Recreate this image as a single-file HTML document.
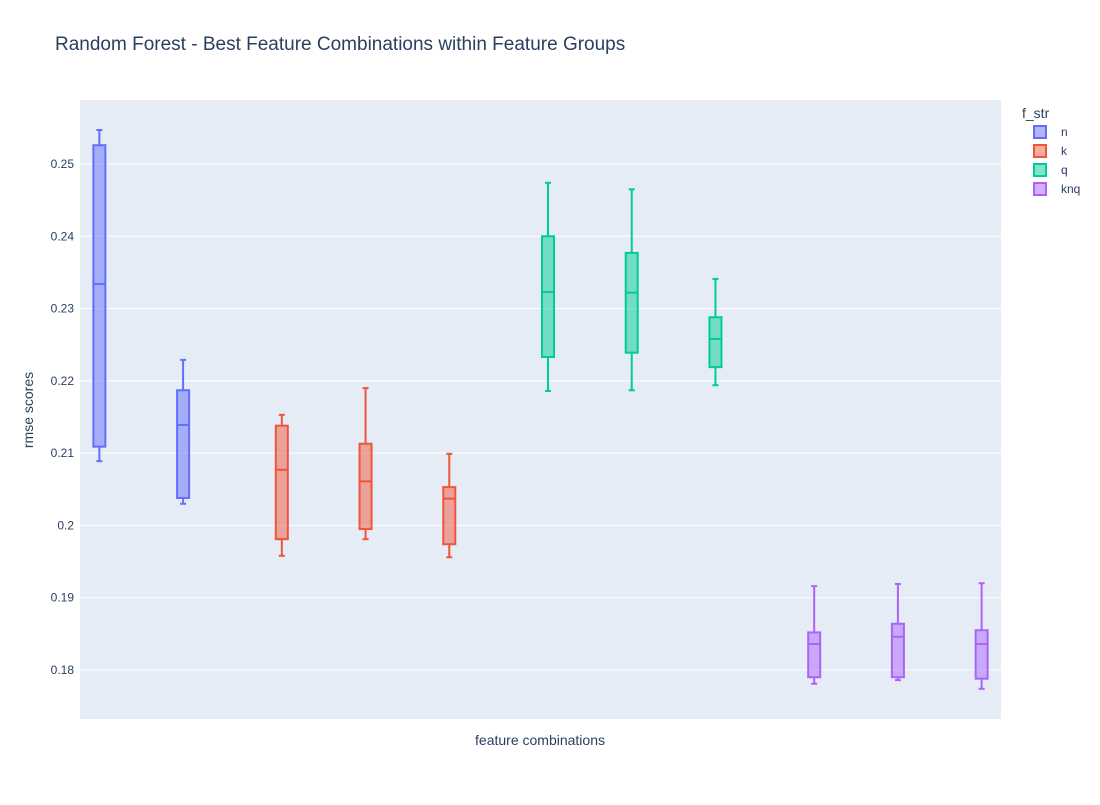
<!DOCTYPE html>
<html><head><meta charset="utf-8"><style>
body{margin:0;background:#fff;font-family:"Liberation Sans",Arial,sans-serif;}
svg text{font-family:"Liberation Sans",Arial,sans-serif;}
</style></head><body>
<svg id="chart" width="1100" height="800" xmlns="http://www.w3.org/2000/svg">
<rect x="0" y="0" width="1100" height="800" fill="#fff"/>
<text x="55" y="50" font-size="19" fill="#2a3f5f">Random Forest - Best Feature Combinations within Feature Groups</text>
<rect x="80" y="100" width="921" height="619" fill="#e5ecf6"/>
<g id="grid"></g>
<g id="boxes"></g>
<text x="540" y="745" font-size="14" fill="#2a3f5f" text-anchor="middle">feature combinations</text>
<text x="33" y="410" font-size="14" fill="#2a3f5f" text-anchor="middle" transform="rotate(-90 33 410)">rmse scores</text>
<g id="legend"></g>
</svg>
<script>
const groups=["n","k","q","knq"];
const colors=["#636efa","#EF553B","#00cc96","#ab63fa"];
const boxGroup=[0,0,1,1,1,2,2,2,3,3,3];
const lowers=[0.2089,0.2030,0.1958,0.1981,0.1956,0.2186,0.2187,0.2194,0.1781,0.1786,0.1774];
const q1s=[0.2109,0.2038,0.1981,0.1995,0.1974,0.2233,0.2239,0.2219,0.1790,0.1790,0.1788];
const medians=[0.2334,0.2139,0.2077,0.2061,0.2037,0.2323,0.2322,0.2258,0.1836,0.1846,0.1836];
const q3s=[0.2526,0.2187,0.2138,0.2113,0.2053,0.2400,0.2377,0.2288,0.1852,0.1864,0.1855];
const uppers=[0.2547,0.2229,0.2153,0.2190,0.2099,0.2474,0.2465,0.2341,0.1916,0.1919,0.1920];
const yTicks=[0.18,0.19,0.2,0.21,0.22,0.23,0.24,0.25];
const yTickLabels=["0.18","0.19","0.2","0.21","0.22","0.23","0.24","0.25"];
const NS="http://www.w3.org/2000/svg";
const X0=80,X1=1001,Y0=100,Y1=719;
function y(v){return 164+(0.25-v)*(670-164)/0.07;}
function x(i,g){const w=(X1-X0)/lowers.length;return X0+w*(i+0.5)+(g-1.5)*15;}
function mk(t,a,p){const e=document.createElementNS(NS,t);for(const k in a)e.setAttribute(k,a[k]);p.appendChild(e);return e;}
const grid=document.getElementById('grid');
yTicks.forEach((t,i)=>{
  const l=mk('line',{x1:X0,x2:X1,y1:y(t),y2:y(t),stroke:'#fff','stroke-width':1},grid);
  
  
  const tx=mk('text',{x:X0-6,y:y(t)+4,'font-size':12,fill:'#2a3f5f','text-anchor':'end'},grid);
  tx.textContent=yTickLabels[i];
  
  
});
const bx=document.getElementById('boxes');
lowers.forEach((lo,i)=>{
  const g=boxGroup[i],c=colors[g],cx=x(i,g),hw=6,cw=3;
  const gr=mk('g',{},bx);
  
  
  const st={stroke:c,'stroke-width':2,fill:'none'};
  mk('line',Object.assign({x1:cx,x2:cx,y1:y(uppers[i]),y2:y(q3s[i])},st),gr);
  mk('line',Object.assign({x1:cx,x2:cx,y1:y(q1s[i]),y2:y(lo)},st),gr);
  mk('line',Object.assign({x1:cx-cw,x2:cx+cw,y1:y(uppers[i]),y2:y(uppers[i])},st),gr);
  mk('line',Object.assign({x1:cx-cw,x2:cx+cw,y1:y(lo),y2:y(lo)},st),gr);
  mk('rect',{x:cx-hw,y:y(q3s[i]),width:hw*2,height:y(q1s[i])-y(q3s[i]),fill:c,'fill-opacity':0.5,stroke:c,'stroke-width':2},gr);
  mk('line',Object.assign({x1:cx-hw,x2:cx+hw,y1:y(medians[i]),y2:y(medians[i])},st),gr);
});
const lg=document.getElementById('legend');
const lt=mk('text',{x:1022,y:118,'font-size':14,fill:'#2a3f5f'},lg);
lt.textContent='f_str';


groups.forEach((n,i)=>{
  const yy=132+i*19;
  const e=mk('g',{},lg);
  
  
  mk('rect',{x:1034,y:yy-6,width:12,height:12,fill:colors[i],'fill-opacity':0.5,stroke:colors[i],'stroke-width':2},e);
  const t=mk('text',{x:1061,y:yy+4,'font-size':12,fill:'#2a3f5f'},e);
  t.textContent=n;
});
</script>
</body></html>
